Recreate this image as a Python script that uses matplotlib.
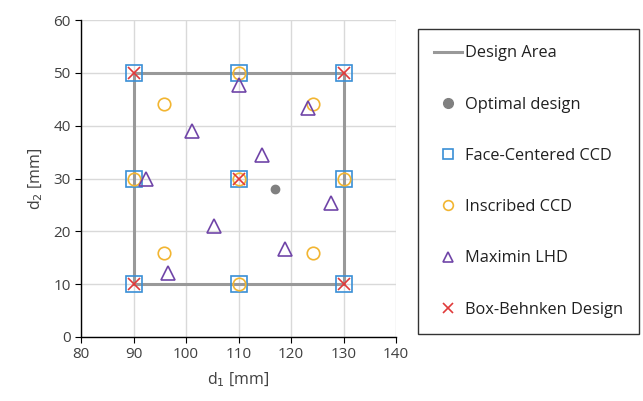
import matplotlib.pyplot as plt
import numpy as np

area_x = [90, 130, 130, 90, 90]
area_y = [10, 10, 50, 50, 10]

opt_x = [117]
opt_y = [28]

fc_x = [90, 110, 130, 90, 110, 130, 90, 110, 130]
fc_y = [10, 10, 10, 30, 30, 30, 50, 50, 50]

ins_x = [95.86, 124.14, 95.86, 124.14, 90, 130, 110, 110, 110]
ins_y = [15.86, 15.86, 44.14, 44.14, 30, 30, 10, 50, 30]

lhd_x = [110, 101.1, 123.3, 114.4, 92.3, 127.7, 105.4, 118.8, 96.6]
lhd_y = [47.7, 38.9, 43.3, 34.4, 30, 25.4, 21.1, 16.6, 12.2]

bb_x = [90, 130, 90, 130, 110]
bb_y = [10, 10, 50, 50, 30]

plt.rcParams['font.family'] = ['Open Sans', 'DejaVu Sans']

fig = plt.figure(figsize=(6.43, 4.01), dpi=100)
ax = fig.add_axes([81/643, 1-337/401, 315/643, 317/401])

ax.plot(area_x, area_y, color='#999999', lw=2.2, label='Design Area', zorder=2)
ax.plot(opt_x, opt_y, 'o', color='#808080', ms=6, ls='none', label='Optimal design', zorder=3)
ax.plot(fc_x, fc_y, 's', mfc='none', mec='#3A8FD6', ms=11, mew=1.2, ls='none',
        label='Face-Centered CCD', zorder=3)
ax.plot(ins_x, ins_y, 'o', mfc='none', mec='#F2B531', ms=9, mew=1.2, ls='none',
        label='Inscribed CCD', zorder=4)
ax.plot(lhd_x, lhd_y, '^', mfc='none', mec='#7045A8', ms=9.5, mew=1.2, ls='none',
        label='Maximin LHD', zorder=4)
ax.plot(bb_x, bb_y, 'x', color='#E03A3A', ms=9, mew=1.2, ls='none',
        label='Box-Behnken Design', zorder=5)

ax.set_xlim(80, 140)
ax.set_ylim(0, 60)
ax.set_xticks(np.arange(80, 141, 10))
ax.set_yticks(np.arange(0, 61, 10))
ax.grid(True, color='#D9D9D9', lw=1)
ax.set_axisbelow(True)
for s in ['top', 'right']:
    ax.spines[s].set_visible(False)
for s in ['left', 'bottom']:
    ax.spines[s].set_color('black')
    ax.spines[s].set_linewidth(1)
ax.tick_params(axis='both', labelsize=11, labelcolor='#404040', color='black',
               length=4, direction='out')
ax.set_xlabel('d$_1$ [mm]', fontsize=11.5, color='#404040', labelpad=6)
ax.set_ylabel('d$_2$ [mm]', fontsize=11.5, color='#404040', labelpad=6)

leg = fig.legend(loc='upper left', bbox_to_anchor=(418/643, 1-29/401), frameon=True,
                 fontsize=11.8, labelspacing=2.15, handlelength=1.7, handletextpad=0.15,
                 borderpad=1.0, borderaxespad=0, fancybox=False)
leg.get_frame().set_edgecolor('black')
leg.get_frame().set_linewidth(1)
for t in leg.get_texts():
    t.set_color('#202020')
for h in leg.legend_handles:
    h.set_markersize(7)

fig.savefig('out.png', dpi=100)
